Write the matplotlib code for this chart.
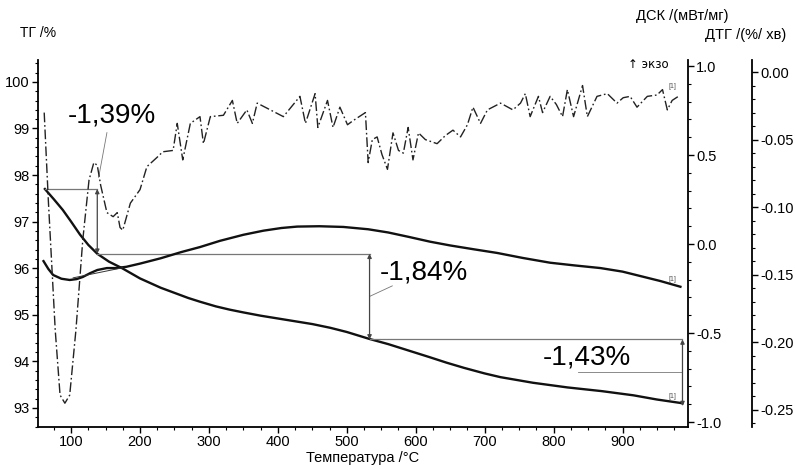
import numpy as np
import matplotlib.pyplot as plt
from matplotlib.ticker import MultipleLocator, FormatStrFormatter

plt.rcParams['font.family'] = ['Liberation Sans', 'DejaVu Sans']

# TG curve (%)
tg_t = [62, 75, 88, 100, 113, 125, 138, 155, 174, 200, 230, 250, 270, 287, 310,
        330, 350, 375, 400, 450, 476, 500, 533, 560, 590, 620, 645, 670, 700,
        723, 770, 820, 870, 916, 950, 987]
tg_v = [97.70, 97.48, 97.25, 97.0, 96.72, 96.50, 96.31, 96.14, 96.0, 95.78, 95.58,
        95.47, 95.36, 95.28, 95.18, 95.11, 95.05, 94.98, 94.92, 94.80, 94.72,
        94.63, 94.48, 94.37, 94.23, 94.09, 93.97, 93.86, 93.74, 93.66, 93.54,
        93.44, 93.36, 93.27, 93.18, 93.10]

# DSC curve (mW/mg)
dsc_t = [60, 67, 74, 86, 98, 108, 117, 128, 138, 152, 165, 180, 200, 230, 260,
         287, 316, 350, 379, 405, 428, 460, 495, 531, 560, 590, 621, 650, 685,
         718, 755, 795, 830, 868, 900, 926, 955, 984]
dsc_v = [-0.096, -0.14, -0.174, -0.195, -0.202, -0.197, -0.185, -0.163, -0.146,
         -0.135, -0.135, -0.128, -0.11, -0.08, -0.045, -0.017, 0.018, 0.052,
         0.075, 0.09, 0.098, 0.10, 0.096, 0.083, 0.065, 0.04, 0.013, -0.008,
         -0.03, -0.05, -0.078, -0.105, -0.12, -0.135, -0.155, -0.18, -0.208,
         -0.24]

# DTG curve (%/min)
dtg_t = [61, 67, 77, 84, 91, 98, 107, 117, 126, 133, 138, 143, 152, 161, 167, 171,
         175, 186, 200, 210, 225, 233, 248, 254, 262, 273, 287, 292, 302, 321, 334,
         341, 355, 363, 370, 389, 408, 432, 440, 454, 458, 472, 480, 490, 501, 509,
         527, 531, 537, 544, 551, 559, 567, 575, 582, 589, 596, 604, 614, 631, 643,
         654, 665, 675, 683, 694, 704, 723, 741, 752, 759, 766, 778, 784, 795, 804,
         813, 820, 829, 842, 849, 863, 878, 892, 901, 911, 921, 936, 950, 958, 965,
         972, 981]
dtg_v = [-0.030, -0.095, -0.191, -0.239, -0.245, -0.239, -0.191, -0.124, -0.080,
         -0.067, -0.069, -0.084, -0.104, -0.107, -0.104, -0.115, -0.117, -0.097,
         -0.087, -0.070, -0.063, -0.059, -0.058, -0.038, -0.065, -0.038, -0.033,
         -0.053, -0.033, -0.032, -0.021, -0.038, -0.028, -0.038, -0.023, -0.028,
         -0.033, -0.018, -0.038, -0.016, -0.041, -0.021, -0.041, -0.026, -0.039,
         -0.036, -0.030, -0.067, -0.050, -0.048, -0.061, -0.072, -0.045, -0.058,
         -0.060, -0.041, -0.065, -0.045, -0.050, -0.053, -0.047, -0.043, -0.048,
         -0.039, -0.026, -0.038, -0.028, -0.023, -0.028, -0.023, -0.016, -0.033,
         -0.018, -0.030, -0.018, -0.024, -0.033, -0.013, -0.033, -0.010, -0.033,
         -0.018, -0.016, -0.023, -0.019, -0.018, -0.026, -0.018, -0.017, -0.013,
         -0.028, -0.021, -0.018]

# mass loss steps: (start T, end T) and TG levels
step_t = [62, 138, 533, 987]
step_v = [97.70, 96.31, 94.47, 93.04]
step_labels = ['-1,39%', '-1,84%', '-1,43%']

fig = plt.figure(figsize=(7.95, 4.70), dpi=100)
ax = fig.add_axes([38 / 795, 43 / 470, 650 / 795, 367 / 470])
ax_dsc = ax.twinx()
ax_dtg = ax.twinx()

ax.set_xlim(52, 995)
ax.set_ylim(92.59, 100.47)
ax_dsc.set_ylim(-1.028, 1.034)
ax_dtg.set_ylim(-0.2626, 0.0089)

gray = '#777777'

# curves
ax.plot(tg_t, tg_v, color='#111111', lw=1.7)
ax_dsc.plot(dsc_t, dsc_v, color='#111111', lw=1.7)
ax_dsc.plot([103, 175], [-0.19, -0.133], color='#333333', lw=0.7)
ax_dtg.plot(dtg_t, dtg_v, color='#222222', lw=1.0, linestyle=(0, (7, 2, 1.2, 2)))

# step annotations
for i in range(3):
    t0, t1 = step_t[i], step_t[i + 1]
    ax.plot([t0, t1], [step_v[i], step_v[i]], color=gray, lw=0.9)
    ax.annotate('', xy=(t1, step_v[i + 1]), xytext=(t1, step_v[i]),
                arrowprops=dict(arrowstyle='<|-|>', color='#444444', lw=0.9,
                                mutation_scale=6, shrinkA=0, shrinkB=0))

ax.text(159, 99.27, step_labels[0], fontsize=20, ha='center', va='center')
ax.plot([152, 140], [98.91, 97.95], color=gray, lw=0.6)
ax.text(612, 95.9, step_labels[1], fontsize=20, ha='center', va='center')
ax.plot([566, 534], [95.62, 95.40], color=gray, lw=0.6)
ax.text(849, 94.09, step_labels[2], fontsize=20, ha='center', va='center')
ax.plot([836, 987], [93.77, 93.77], color=gray, lw=0.6)

# [1] curve markers
for a, y in [(ax, 93.16), (ax_dsc, -0.22), (ax_dtg, -0.013)]:
    a.text(972, y, '[1]', fontsize=5, color='#555555', ha='center', va='bottom')

# spines
for s in ['top', 'right']:
    ax.spines[s].set_visible(False)
for s in ['top', 'left', 'bottom']:
    ax_dsc.spines[s].set_visible(False)
    ax_dtg.spines[s].set_visible(False)
ax_dtg.spines['right'].set_position(('axes', 1.098))

# ticks
ax.set_xticks(np.arange(100, 1000, 100))
ax.xaxis.set_minor_locator(MultipleLocator(25))
ax.yaxis.set_major_locator(MultipleLocator(1))
ax.yaxis.set_minor_locator(MultipleLocator(0.2))
ax_dsc.yaxis.set_major_locator(MultipleLocator(0.5))
ax_dsc.yaxis.set_minor_locator(MultipleLocator(0.1))
ax_dsc.yaxis.set_major_formatter(FormatStrFormatter('%.1f'))
ax_dtg.yaxis.set_major_locator(MultipleLocator(0.05))
ax_dtg.yaxis.set_minor_locator(MultipleLocator(0.01))
ax_dtg.yaxis.set_major_formatter(FormatStrFormatter('%.2f'))

for a in [ax, ax_dsc, ax_dtg]:
    a.tick_params(which='major', direction='out', length=4, width=1.0,
                  labelsize=10.5, pad=2)
    a.tick_params(which='minor', direction='out', length=2, width=0.8)
    for s in a.spines.values():
        s.set_linewidth(1.3)

ax.set_xlabel('Температура /°C', fontsize=10.5, labelpad=1)

fig.text(20 / 795, 1 - 33 / 470, 'ТГ /%', fontsize=10, va='center')
fig.text(636 / 795, 1 - 16 / 470, 'ДСК /(мВт/мг)', fontsize=10.5, va='center')
fig.text(705 / 795, 1 - 35 / 470, 'ДТГ /(%/ хв)', fontsize=10.5, va='center')
fig.text(628 / 795, 1 - 65 / 470, '↑ экзо', fontsize=8.5, va='center',
         family=['DejaVu Sans'])

fig.savefig('out.png', dpi=100, facecolor='white')
